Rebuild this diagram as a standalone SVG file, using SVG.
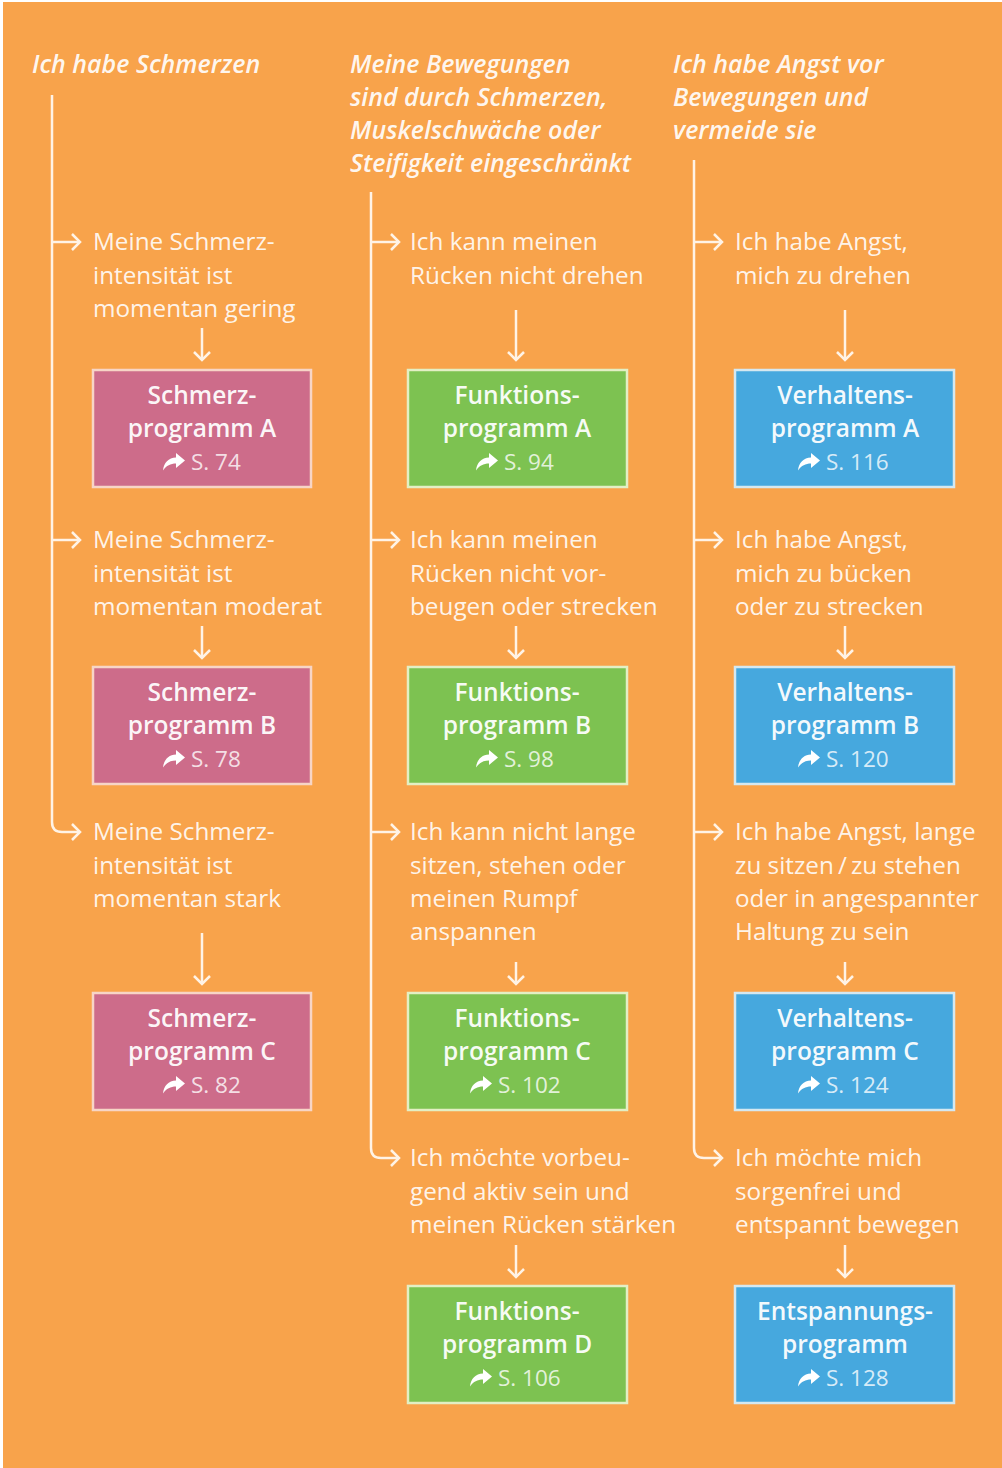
<svg xmlns="http://www.w3.org/2000/svg" xmlns:xlink="http://www.w3.org/1999/xlink" width="1002" height="1468" viewBox="0 0 1002 1468">
<style>
.hd{font-family:"Open Sans","Liberation Sans",sans-serif;font-style:italic;font-weight:600;font-size:25px;fill:#FFFFFF;fill-opacity:0.93}
.lb{font-family:"Open Sans","Liberation Sans",sans-serif;font-weight:400;font-size:24.3px;fill:#FFFFFF;fill-opacity:0.9}
.bt{font-family:"Open Sans","Liberation Sans",sans-serif;font-weight:600;font-size:24.5px;fill:#FFFFFF;fill-opacity:0.95;text-anchor:middle}
.pg{font-family:"Open Sans","Liberation Sans",sans-serif;font-weight:400;font-size:22.5px;fill:#FFFFFF;fill-opacity:0.8}
.ln{fill:none;stroke:#FFF3E6;stroke-width:2.5}
.ar{fill:none;stroke:#FFF3E6;stroke-width:2.5;marker-end:url(#chev)}
.pink{fill:#CD6C8A;stroke:#F7D5C6;stroke-width:2.5}
.green{fill:#7DC251;stroke:#E3EFC4;stroke-width:2.5}
.blue{fill:#46A8DE;stroke:#D5E8F0;stroke-width:2.5}
</style>
<defs>
<marker id="chev" markerUnits="userSpaceOnUse" markerWidth="20" markerHeight="20" viewBox="0 0 20 20" refX="10" refY="10" orient="auto">
<path d="M2,2 L10,10 L2,18" fill="none" stroke="#FFF3E6" stroke-width="2.5"/>
</marker>
<path id="share" d="M13,0 L22,7.5 L13,15 L13,10.5 C7.5,10.5 3.5,12.5 0,17.5 C0.8,10 5.5,4.5 13,4.5 Z" fill="#FFFFFF"/>
</defs>
<rect x="0" y="0" width="1002" height="1468" fill="#FFFFFF"/>
<rect x="3" y="2" width="999" height="1466" fill="#F8A34B"/>

<g id="connectors">
<!-- column 1 -->
<path class="ln" d="M52,95 V822 Q52,832 62,832"/>
<path class="ar" d="M52,242 H80"/>
<path class="ar" d="M52,540 H80"/>
<path class="ar" d="M62,832 H80"/>
<path class="ar" d="M202,328 V360"/>
<path class="ar" d="M202,626 V658"/>
<path class="ar" d="M202,933 V984"/>
<!-- column 2 -->
<path class="ln" d="M371,192 V1148 Q371,1158 381,1158"/>
<path class="ar" d="M371,242 H399"/>
<path class="ar" d="M371,540 H399"/>
<path class="ar" d="M371,832 H399"/>
<path class="ar" d="M381,1158 H399"/>
<path class="ar" d="M516,310 V360"/>
<path class="ar" d="M516,626 V658"/>
<path class="ar" d="M516,962 V984"/>
<path class="ar" d="M516,1245 V1277"/>
<!-- column 3 -->
<path class="ln" d="M694,160 V1148 Q694,1158 704,1158"/>
<path class="ar" d="M694,242 H722"/>
<path class="ar" d="M694,540 H722"/>
<path class="ar" d="M694,832 H722"/>
<path class="ar" d="M704,1158 H722"/>
<path class="ar" d="M845,310 V360"/>
<path class="ar" d="M845,626 V658"/>
<path class="ar" d="M845,962 V984"/>
<path class="ar" d="M845,1245 V1277"/>
</g>

<!-- headers -->
<g id="h1"><text class="hd" x="32" y="73">Ich habe Schmerzen</text></g>
<g id="h2"><text class="hd" x="350" y="73">Meine Bewegungen</text><text class="hd" x="350" y="106">sind durch Schmerzen,</text><text class="hd" x="350" y="139">Muskelschwäche oder</text><text class="hd" x="350" y="172">Steifigkeit eingeschränkt</text></g>
<g id="h3"><text class="hd" x="673" y="73">Ich habe Angst vor</text><text class="hd" x="673" y="106">Bewegungen und</text><text class="hd" x="673" y="139">vermeide sie</text></g>

<!-- column 1 labels -->
<g id="l1a"><text class="lb" x="93" y="250">Meine Schmerz-</text><text class="lb" x="93" y="284">intensität ist</text><text class="lb" x="93" y="317">momentan gering</text></g>
<g id="l1b"><text class="lb" x="93" y="548">Meine Schmerz-</text><text class="lb" x="93" y="582">intensität ist</text><text class="lb" x="93" y="615">momentan moderat</text></g>
<g id="l1c"><text class="lb" x="93" y="840">Meine Schmerz-</text><text class="lb" x="93" y="874">intensität ist</text><text class="lb" x="93" y="907">momentan stark</text></g>

<!-- column 2 labels -->
<g id="l2a"><text class="lb" x="410" y="250">Ich kann meinen</text><text class="lb" x="410" y="284">Rücken nicht drehen</text></g>
<g id="l2b"><text class="lb" x="410" y="548">Ich kann meinen</text><text class="lb" x="410" y="582">Rücken nicht vor-</text><text class="lb" x="410" y="615">beugen oder strecken</text></g>
<g id="l2c"><text class="lb" x="410" y="840">Ich kann nicht lange</text><text class="lb" x="410" y="874">sitzen, stehen oder</text><text class="lb" x="410" y="907">meinen Rumpf</text><text class="lb" x="410" y="940">anspannen</text></g>
<g id="l2d"><text class="lb" x="410" y="1166">Ich möchte vorbeu-</text><text class="lb" x="410" y="1200">gend aktiv sein und</text><text class="lb" x="410" y="1233">meinen Rücken stärken</text></g>

<!-- column 3 labels -->
<g id="l3a"><text class="lb" x="735" y="250">Ich habe Angst,</text><text class="lb" x="735" y="284">mich zu drehen</text></g>
<g id="l3b"><text class="lb" x="735" y="548">Ich habe Angst,</text><text class="lb" x="735" y="582">mich zu bücken</text><text class="lb" x="735" y="615">oder zu strecken</text></g>
<g id="l3c"><text class="lb" x="735" y="840">Ich habe Angst, lange</text><text class="lb" x="735" y="874">zu sitzen&#8201;/&#8201;zu stehen</text><text class="lb" x="735" y="907">oder in angespannter</text><text class="lb" x="735" y="940">Haltung zu sein</text></g>
<g id="l3d"><text class="lb" x="735" y="1166">Ich möchte mich</text><text class="lb" x="735" y="1200">sorgenfrei und</text><text class="lb" x="735" y="1233">entspannt bewegen</text></g>

<!-- boxes column 1 -->
<g id="s1"><rect class="pink" x="93" y="370" width="218" height="117"/><text class="bt" x="202" y="404">Schmerz-</text><text class="bt" x="202" y="437">programm A</text><use xlink:href="#share" x="163" y="453"/><text class="pg" x="191" y="470">S. 74</text></g>
<g id="s2"><rect class="pink" x="93" y="667" width="218" height="117"/><text class="bt" x="202" y="701">Schmerz-</text><text class="bt" x="202" y="734">programm B</text><use xlink:href="#share" x="163" y="750"/><text class="pg" x="191" y="767">S. 78</text></g>
<g id="s3"><rect class="pink" x="93" y="993" width="218" height="117"/><text class="bt" x="202" y="1027">Schmerz-</text><text class="bt" x="202" y="1060">programm C</text><use xlink:href="#share" x="163" y="1076"/><text class="pg" x="191" y="1093">S. 82</text></g>

<!-- boxes column 2 -->
<g id="f1"><rect class="green" x="408" y="370" width="219" height="117"/><text class="bt" x="517" y="404">Funktions-</text><text class="bt" x="517" y="437">programm A</text><use xlink:href="#share" x="476" y="453"/><text class="pg" x="504" y="470">S. 94</text></g>
<g id="f2"><rect class="green" x="408" y="667" width="219" height="117"/><text class="bt" x="517" y="701">Funktions-</text><text class="bt" x="517" y="734">programm B</text><use xlink:href="#share" x="476" y="750"/><text class="pg" x="504" y="767">S. 98</text></g>
<g id="f3"><rect class="green" x="408" y="993" width="219" height="117"/><text class="bt" x="517" y="1027">Funktions-</text><text class="bt" x="517" y="1060">programm C</text><use xlink:href="#share" x="470" y="1076"/><text class="pg" x="498" y="1093">S. 102</text></g>
<g id="f4"><rect class="green" x="408" y="1286" width="219" height="117"/><text class="bt" x="517" y="1320">Funktions-</text><text class="bt" x="517" y="1353">programm D</text><use xlink:href="#share" x="470" y="1369"/><text class="pg" x="498" y="1386">S. 106</text></g>

<!-- boxes column 3 -->
<g id="v1"><rect class="blue" x="735" y="370" width="219" height="117"/><text class="bt" x="845" y="404">Verhaltens-</text><text class="bt" x="845" y="437">programm A</text><use xlink:href="#share" x="798" y="453"/><text class="pg" x="826" y="470">S. 116</text></g>
<g id="v2"><rect class="blue" x="735" y="667" width="219" height="117"/><text class="bt" x="845" y="701">Verhaltens-</text><text class="bt" x="845" y="734">programm B</text><use xlink:href="#share" x="798" y="750"/><text class="pg" x="826" y="767">S. 120</text></g>
<g id="v3"><rect class="blue" x="735" y="993" width="219" height="117"/><text class="bt" x="845" y="1027">Verhaltens-</text><text class="bt" x="845" y="1060">programm C</text><use xlink:href="#share" x="798" y="1076"/><text class="pg" x="826" y="1093">S. 124</text></g>
<g id="e1"><rect class="blue" x="735" y="1286" width="219" height="117"/><text class="bt" x="845" y="1320">Entspannungs-</text><text class="bt" x="845" y="1353">programm</text><use xlink:href="#share" x="798" y="1369"/><text class="pg" x="826" y="1386">S. 128</text></g>
</svg>
